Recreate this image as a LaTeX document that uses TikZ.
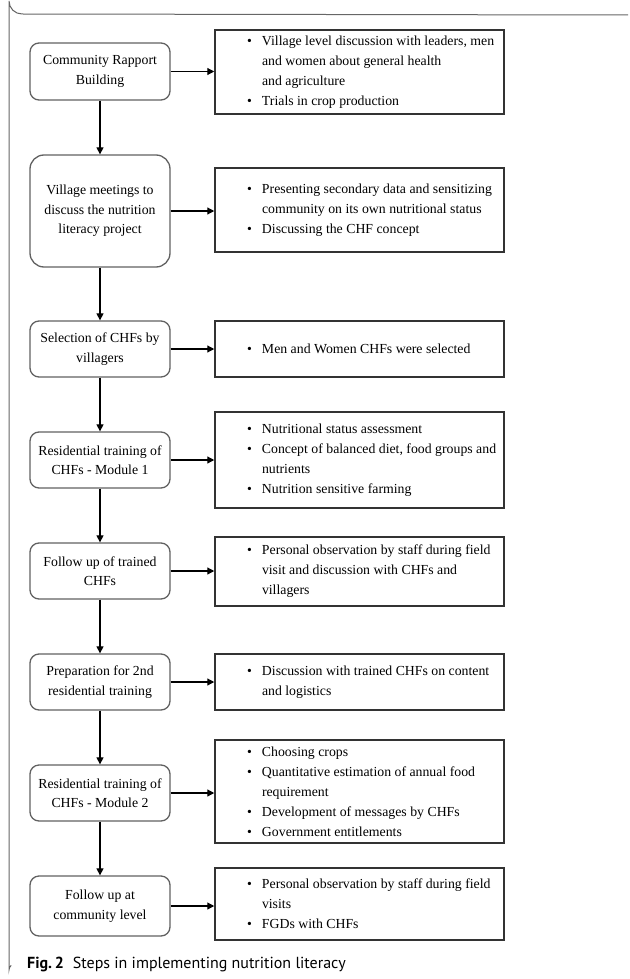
\documentclass[tikz,border=0pt]{standalone}
\usepackage{fontspec}
\setmainfont{Liberation Serif}
\newfontfamily\capfont{PT Sans}
\usetikzlibrary{arrows.meta}
\newcommand\bul{\makebox[15pt][l]{\textbullet}}
\newcommand\bitem{\par\hangindent=15pt\hangafter=1\noindent\bul}
\newcommand\nl{\newline}
\newcommand\infotext[1]{\parbox{289pt}{\fontsize{13.8}{20}\selectfont\raggedright\leftskip=32pt #1}}
\begin{document}
\begin{tikzpicture}[x=1pt,y=-1pt,
  stepbox/.style={draw=black!62,line width=1.3pt,rounded corners=9pt,minimum width=140pt,
    align=center,font=\fontsize{13.8}{19.5}\selectfont,inner sep=2pt},
  infobox/.style={draw=black!80,line width=1.5pt,minimum width=289pt,inner sep=0pt},
  arr/.style={-{Triangle[length=7pt,width=7pt]},line width=1.2pt,black},
  frame/.style={draw=black!60,line width=1pt}]
\useasboundingbox (0,0) rectangle (629,979);
\draw[frame] (628,15) -- (22,14) arc[start angle=90,end angle=180,radius=13] -- (9,970)
  arc[start angle=180,end angle=230,radius=6];
% left steps
\node[stepbox,minimum height=57pt] (L1) at (100,71.5) {Community Rapport\\Building};
\node[stepbox,minimum height=112pt,rounded corners=14pt] (L2) at (100,211) {Village meetings to\\discuss the nutrition\\literacy project};
\node[stepbox,minimum height=56pt] (L3) at (100,349) {Selection of CHFs by\\villagers};
\node[stepbox,minimum height=56pt] (L4) at (100,460) {Residential training of\\CHFs - Module 1};
\node[stepbox,minimum height=56pt] (L5) at (100,571) {Follow up of trained\\CHFs};
\node[stepbox,minimum height=56pt] (L6) at (100,682) {Preparation for 2nd\\residential training};
\node[stepbox,minimum height=56pt] (L7) at (100,793) {Residential training of\\CHFs - Module 2};
\node[stepbox,minimum height=60pt] (L8) at (100,906) {Follow up at\\community level};
% right info boxes
\node[infobox,minimum height=84pt] (R1) at (359.5,72) {\infotext{%
  \bitem Village level discussion with leaders, men\nl and women about general health\nl and agriculture
  \bitem Trials in crop production}};
\node[infobox,minimum height=84pt] (R2) at (359.5,210) {\infotext{%
  \bitem Presenting secondary data and sensitizing\nl community on its own nutritional status
  \bitem Discussing the CHF concept}};
\node[infobox,minimum height=56pt] (R3) at (359.5,349) {\infotext{%
  \bitem Men and Women CHFs were selected}};
\node[infobox,minimum height=96pt] (R4) at (359.5,460) {\infotext{%
  \bitem Nutritional status assessment
  \bitem Concept of balanced diet, food groups and\nl nutrients
  \bitem Nutrition sensitive farming}};
\node[infobox,minimum height=69pt] (R5) at (359.5,571.5) {\infotext{%
  \bitem Personal observation by staff during field\nl visit and discussion with CHFs and\nl villagers}};
\node[infobox,minimum height=56pt] (R6) at (359.5,682) {\infotext{%
  \bitem Discussion with trained CHFs on content\nl and logistics}};
\node[infobox,minimum height=103pt] (R7) at (359.5,791.5) {\infotext{%
  \bitem Choosing crops
  \bitem Quantitative estimation of annual food\nl requirement
  \bitem Development of messages by CHFs
  \bitem Government entitlements}};
\node[infobox,minimum height=72pt] (R8) at (359.5,904) {\infotext{%
  \bitem Personal observation by staff during field\nl visits
  \bitem FGDs with CHFs}};
% arrows
\foreach \i in {1,...,8} {\draw[arr] (L\i.east) -- (L\i.east -| R\i.west);}
\foreach \i/\j in {1/2,2/3,3/4,4/5,5/6,6/7,7/8} {\draw[arr] (L\i.south) -- (L\j.north);}
% caption
\node[anchor=base west,inner sep=0pt,font=\capfont\fontsize{16}{16}\selectfont] (cap) at (27,968)
  {\textbf{Fig.\,2}\hspace{9pt}Steps in implementing nutrition literacy};
\end{tikzpicture}
\end{document}
